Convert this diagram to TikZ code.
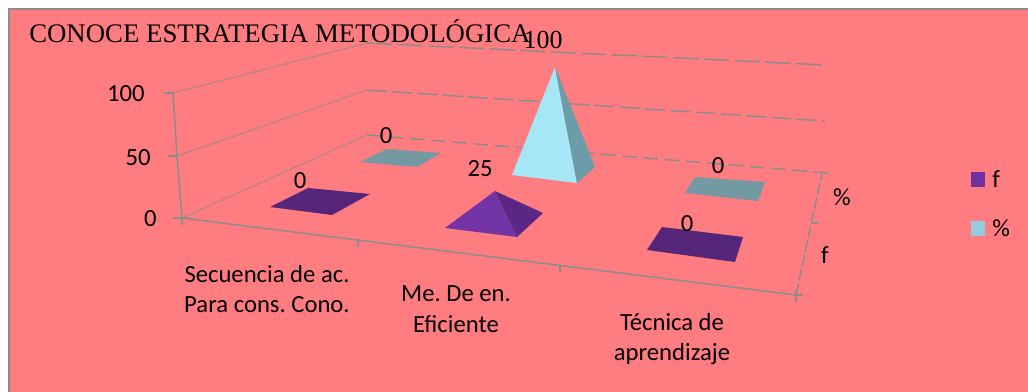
\documentclass[tikz,border=0pt]{standalone}
\usepackage{fontspec}
\setmainfont{Liberation Serif}
\newfontfamily\calfont{Carlito}
\usetikzlibrary{positioning}
\usepackage{xcolor}
\frenchspacing

\definecolor{fondo}{HTML}{FF7C80}
\definecolor{rejilla}{HTML}{8C8C8C}
\definecolor{fplano}{HTML}{552579}
\definecolor{fclaro}{HTML}{7334A5}
\definecolor{foscuro}{HTML}{5A2884}
\definecolor{pplano}{HTML}{7399A3}
\definecolor{pclaro}{HTML}{A6E7F6}
\definecolor{poscuro}{HTML}{6D9CA9}
\definecolor{pleyenda}{HTML}{93CDDD}
\definecolor{fleyenda}{HTML}{7030A0}

\begin{document}
\begin{tikzpicture}[x=0.75pt, y=-0.75pt,
    eje/.style={draw=rejilla, line width=1.1pt},
    punteada/.style={draw=rejilla, line width=1.1pt, densely dotted},
    etq/.style={font=\calfont\fontsize{18.5}{23}\selectfont, inner sep=0pt},
    categ/.style={etq, align=center}]
    \useasboundingbox (0,0) rectangle (1028,392);

    % Fondo
    \fill[fondo] (9,9) rectangle (1028,392);
    \draw[rejilla, line width=1.2pt] (1028,9) -- (9,9) -- (9,392);

    % Titulo
    \node[anchor=base west, inner sep=0pt, font=\fontsize{20.1}{24}\selectfont] (titulo) at (29,43) {CONOCE ESTRATEGIA METODOLÓGICA};

    % Pared izquierda
    \draw[punteada] (173,93) -- (367,43);
    \draw[punteada] (177,156) -- (367,90);
    \draw[punteada] (182,218) -- (367,135);
    \draw[eje] (173,93) -- (177,156) -- (182,218);
    \draw[eje] (164,93) -- (173,93);
    \draw[eje] (168,156) -- (177,156);
    \draw[eje] (173,218) -- (188,218);

    % Pared del fondo
    \draw[rejilla, line width=1.1pt, dash pattern=on 19pt off 4pt] (367,43) -- (825,65);
    \draw[rejilla, line width=1.1pt, dash pattern=on 15pt off 4pt] (367,90) -- (825,121);
    \draw[rejilla, line width=1.1pt, dash pattern=on 11pt off 5pt] (367,135) -- (828,173);

    % Piso
    \draw[eje] (182,218) -- (796,295);
    \draw[eje] (182,215) -- (182,225);
    \draw[eje] (358,239) -- (358,247);
    \draw[eje] (560,265) -- (560,272);
    \draw[eje] (796,290) -- (796,302);
    \draw[eje] (796,295) -- (803,295);
    \draw[rejilla, line width=1.1pt, dash pattern=on 9pt off 2pt] (796,295) -- (822,173);
    \draw[eje] (811,223) -- (819,223);

    % Valores del eje
    \node[etq, anchor=east] (v100) at (145,94) {100};
    \node[etq, anchor=east] (v50) at (151,158) {50};
    \node[etq, anchor=east] (v0) at (157,219) {0};

    % Serie %
    \fill[pplano] (360,162) -- (387,149) -- (441,153) -- (417,167) -- cycle;
    \fill[pclaro] (512,175) -- (555,67) -- (577,183) -- cycle;
    \fill[poscuro] (577,183) -- (555,67) -- (595,167) -- cycle;
    \fill[pplano] (685,193) -- (695,177) -- (765,182) -- (758,201) -- cycle;

    % Serie f
    \fill[fplano] (270,207) -- (308,188) -- (370,194) -- (332,215) -- cycle;
    \fill[fclaro] (445,228) -- (495,191) -- (517,237) -- cycle;
    \fill[foscuro] (517,237) -- (495,191) -- (543,213) -- cycle;
    \fill[fplano] (647,250) -- (662,227) -- (743,237) -- (735,262) -- cycle;

    % Etiquetas de datos
    \node[etq] (dp1) at (386,136) {0};
    \node[inner sep=0pt, font=\fontsize{19.5}{23}\selectfont] (dp2) at (543,40) {100};
    \node[etq] (dp3) at (718,166) {0};
    \node[etq] (df1) at (300,181) {0};
    \node[etq] (df2) at (480,169) {25};
    \node[etq] (df3) at (687,224) {0};

    % Categorias
    \node[categ] (cat1) at (267,289) {Secuencia de ac.\\Para cons. Cono.};
    \node[categ] (cat2) at (456,309) {Me. De en.\\Eficiente};
    \node[categ] (cat3) at (672,339) {Técnica de\\aprendizaje};

    % Eje de series
    \node[etq] (spct) at (842,197) {\%};
    \node[etq] (sf) at (825,255) {f};

    % Leyenda
    \fill[fleyenda] (971,172) rectangle (985,187);
    \node[etq, anchor=west] (lf) at (992,179) {f};
    \fill[pleyenda] (971,221) rectangle (985,236);
    \node[etq, anchor=west] (lpct) at (992,228) {\%};
\end{tikzpicture}
\end{document}
